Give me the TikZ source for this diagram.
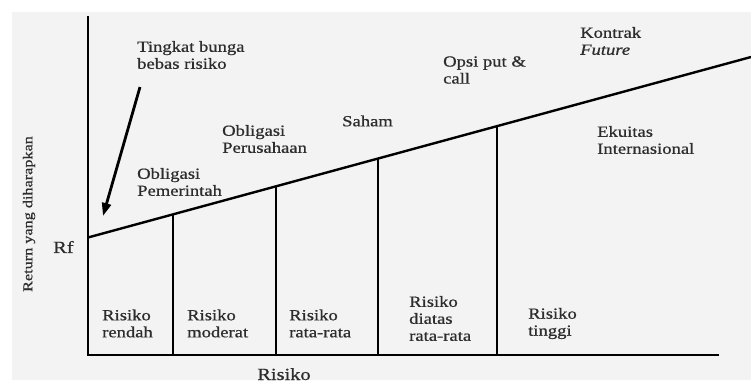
\documentclass[tikz,border=0pt]{standalone}
\usepackage{fontspec}
\setmainfont{Liberation Serif}[FakeStretch=1.2,FakeBold=0.7]
\usepackage{tikz}
\usetikzlibrary{positioning,calc}
\usetikzlibrary{arrows.meta}

\definecolor{paper}{RGB}{243,243,243}
\definecolor{ink}{RGB}{45,45,45}

\begin{document}
\begin{tikzpicture}[
  x = 1pt,
  y = -1pt,
  lbl/.style = {
    anchor = west,
    align = left,
    inner sep = 0pt,
    text = ink,
    font = \fontsize{15.5}{17}\selectfont,
  },
  axis/.style = {
    line width = 2.8pt,
  },
  divider/.style = {
    line width = 1.8pt,
  },
  >={Triangle[length=13pt,width=9pt]},
]

  \useasboundingbox (0,0) rectangle (751,383);
  \fill[white] (0,0) rectangle (751,383);
  \fill[paper] (12,12) rectangle (751,380);

  % axes and line
  \coordinate (ytop) at (88,16);
  \coordinate (origin) at (88,355);
  \coordinate (xend) at (719,355);
  \coordinate (rf) at (88,237.5);
  \coordinate (lineend) at (751,57);
  \draw[axis] (ytop) -- (origin) -- (xend);
  \draw[line width=2.4pt] (rf) -- (lineend);

  % risk bands
  \foreach \name/\x/\y in {a/173/214.3, b/276/186.2, c/378/158.3, d/497/126.0} {
    \coordinate (top\name) at (\x,\y);
    \coordinate (bot\name) at (\x,355);
    \draw[divider] (top\name) -- (bot\name);
  }

  % arrow to Rf
  \coordinate (arrtail) at (140,87);
  \coordinate (arrhead) at (103,216);
  \draw[->,line width=2.8pt] (arrtail) -- (arrhead);

  \node[lbl] (tingkat) at (137,55) {Tingkat bunga\\bebas risiko};
  \node[lbl] (oblpem) at (137,182) {Obligasi\\Pemerintah};
  \node[lbl] (oblper) at (222,139) {Obligasi\\Perusahaan};
  \node[lbl] (saham) at (342,121) {Saham};
  \node[lbl] (opsi) at (443,70) {Opsi put \&\\call};
  \node[lbl] (kontrak) at (580,41) {Kontrak\\\textit{Future}};
  \node[lbl] (ekuitas) at (597,140) {Ekuitas\\Internasional};

  \node[lbl, font=\fontsize{17}{19}\selectfont] (rflabel) at (53,247) {Rf};
  \node[lbl, anchor=center, rotate=90, font=\fontsize{13.5}{15}\selectfont] (ylabel) at (29,214) {Return yang diharapkan};
  \node[lbl, anchor=base, font=\fontsize{17}{19}\selectfont] (xlabel) at (284,380) {Risiko};

  \node[lbl] (rendah) at (102,323.5) {Risiko\\rendah};
  \node[lbl] (moderat) at (187,323.5) {Risiko\\moderat};
  \node[lbl] (ratarata) at (289,323.5) {Risiko\\rata-rata};
  \node[lbl] (diatas) at (409,318.5) {Risiko\\diatas\\rata-rata};
  \node[lbl] (tinggi) at (528,323.5) {Risiko\\tinggi};

\end{tikzpicture}
\end{document}
